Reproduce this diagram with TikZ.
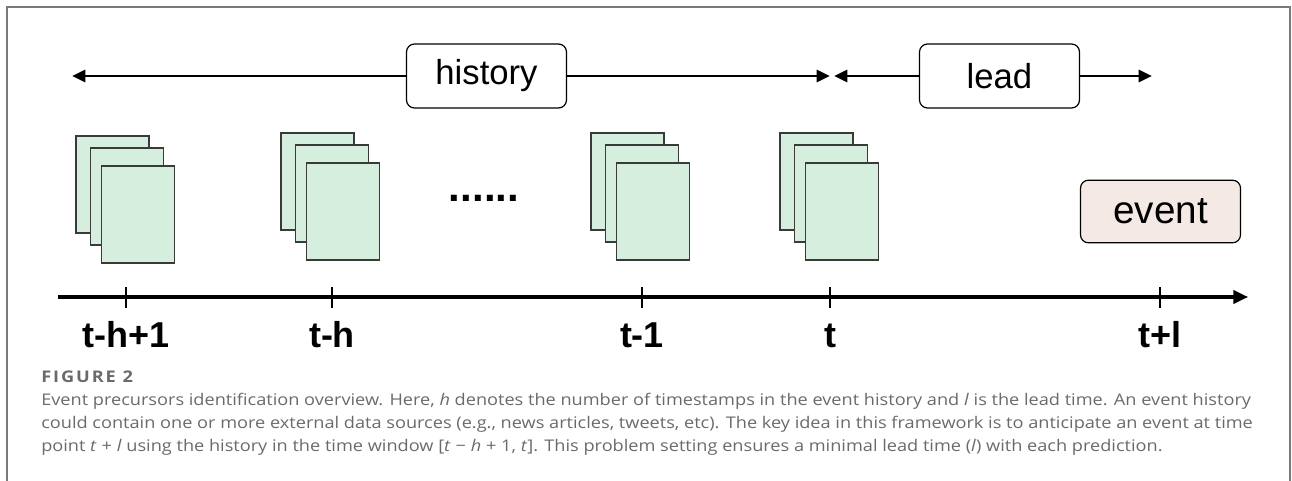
\documentclass[tikz,border=0pt]{standalone}
\usepackage{fontspec}
\setmainfont{Liberation Sans}
\newfontfamily\capfont[FakeStretch=1.13]{Open Sans}
\usetikzlibrary{arrows.meta}

\definecolor{sheetfill}{HTML}{D6EEDD}
\definecolor{sheetline}{HTML}{3A3A3A}
\definecolor{eventfill}{HTML}{F5E9E5}
\definecolor{framegray}{HTML}{7A7A7A}
\definecolor{captiongray}{HTML}{6A6A6A}

% spacing around binary operators in the caption formulas
\newcommand{\opsp}{\hspace{0.3em}}

\begin{document}
\begin{tikzpicture}[x=0.75pt,y=-0.75pt,
  labelbox/.style={draw=black, line width=0.9pt, rounded corners=6pt, fill=white,
    minimum width=120pt, minimum height=48pt, inner sep=0pt,
    font=\fontsize{26}{30}\selectfont},
  arr/.style={line width=2.2pt, -{Triangle[length=10pt,width=9pt]}},
  axisline/.style={line width=2.3pt, -{Triangle[length=11pt,width=10pt]}},
  tick/.style={line width=1.6pt},
  ticklabel/.style={font=\bfseries\fontsize{27}{30}\selectfont, inner sep=0pt},
  sheet/.style={draw=sheetline, line width=1.1pt, fill=sheetfill},
  captext/.style={anchor=base west, inner sep=0pt, text=captiongray,
    font=\capfont\fontsize{12.05}{14}\selectfont},
  docstack/.pic={
    \foreach \dx/\dy in {0/0,14.5/12,25.5/30}
      \draw[sheet] (\dx,\dy) rectangle ++(73,97);
  }
]
% canvas and open-bottom frame
\useasboundingbox (0,0) rectangle (1292,481);
\draw[framegray, line width=1.2pt] (7,481) -- (7,7) -- (1290,7) -- (1290,481);

% history / lead spans
\node[labelbox] (history) at (486.5,76) {history};
\node[labelbox] (lead) at (999.5,76) {lead};
\coordinate (histL) at (72,76);
\coordinate (histR) at (830,76);
\coordinate (leadL) at (834,76);
\coordinate (leadR) at (1152,76);
\draw[arr] (history.west) -- (histL);
\draw[arr] (history.east) -- (histR);
\draw[arr] (lead.west) -- (leadL);
\draw[arr] (lead.east) -- (leadR);

% document stacks per timestamp
\pic at (76,136) {docstack};
\pic at (281,133) {docstack};
\pic at (591,133) {docstack};
\pic at (780,133) {docstack};
\node[font=\bfseries\fontsize{31.5}{32}\selectfont, inner sep=0pt] (dots) at (484,198) {......};

% event
\node[labelbox, fill=eventfill, minimum height=47pt, font=\fontsize{29}{32}\selectfont] (event) at (1160.5,211.5) {event};

% time axis
\coordinate (ax0) at (58,297);
\coordinate (ax1) at (1248,297);
\draw[axisline] (ax0) -- (ax1);
\foreach \x/\nm/\txt in {126/a/t-h+1, 332/b/t-h, 642/c/t-1, 830/d/t, 1160/e/t+l}{
  \draw[tick] (\x,287) -- (\x,308);
  \node[ticklabel, anchor=base] (lab\nm) at (\x,347) {\txt};
}

% caption
\node[captext, font=\capfont\fontsize{12.05}{14}\selectfont\bfseries\addfontfeatures{LetterSpace=12}] (fig) at (41,382) {FIGURE 2};
\node[captext] (cap1) at (41,405) {Event precursors identification overview. Here, \textit{h} denotes the number of timestamps in the event history and \textit{l} is the lead time. An event history};
\node[captext] (cap2) at (41,428) {could contain one or more external data sources (e.g., news articles, tweets, etc). The key idea in this framework is to anticipate an event at time};
\node[captext] (cap3) at (41,451) {point \textit{t}\opsp+\opsp\textit{l} using the history in the time window [\textit{t}\opsp−\opsp\textit{h}\opsp+\opsp1, \textit{t}]. This problem setting ensures a minimal lead time (\textit{l}) with each prediction.};
\end{tikzpicture}
\end{document}
